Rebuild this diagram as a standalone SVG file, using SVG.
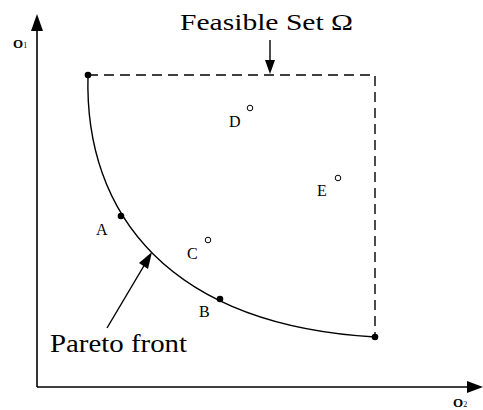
<svg xmlns="http://www.w3.org/2000/svg" width="483" height="410" viewBox="0 0 483 410">
<style>
.ax{stroke:#000;stroke-width:1.6;fill:none}
.ln{stroke:#000;stroke-width:1.4;fill:none}
.dash{stroke:#000;stroke-width:1.4;fill:none;stroke-dasharray:10 6}
.dot{fill:#000}
.open{fill:#fff;stroke:#000;stroke-width:1}
.t{font-family:'Liberation Serif','DejaVu Serif',serif;fill:#000}
.lbl{font-size:16px}
.ax-l{font-size:13px;font-weight:bold}
.sub{font-size:8px;font-weight:normal}
</style>
<g id="connectors">
<path class="ax" d="M37,387 L37,28"/>
<path d="M31,31 L37,14 L43,31 z" fill="#000"/>
<path class="ax" d="M37,387 L470,387"/>
<path d="M467,381 L483,387 L467,393 z" fill="#000"/>
<path class="dash" d="M88,75 L375,75 L375,337"/>
<path class="ln" d="M88,75 C84,215 170,325 375,337"/>
<path class="ln" d="M270,40 L270,62"/>
<path d="M265,60 L270,74 L275,60 z" fill="#000"/>
<path class="ln" d="M107,328 L145,264"/>
<path d="M139,263 L152,252 L148,269 z" fill="#000"/>
</g>
<g id="axis-o1"><text class="t ax-l" x="13" y="48">O<tspan class="sub">1</tspan></text></g>
<g id="axis-o2"><text class="t ax-l" x="453" y="407">O<tspan class="sub">2</tspan></text></g>
<g id="feasible-label"><text class="t" x="180" y="30" font-size="24" textLength="173" lengthAdjust="spacingAndGlyphs">Feasible Set Ω</text></g>
<g id="pareto-label"><text class="t" x="50" y="352" font-size="26" textLength="137" lengthAdjust="spacingAndGlyphs">Pareto front</text></g>
<g id="end-top"><circle class="dot" cx="88" cy="75" r="3.3"/></g>
<g id="end-bottom"><circle class="dot" cx="375" cy="337" r="3.3"/></g>
<g id="A"><circle class="dot" cx="121" cy="216" r="3.3"/><text class="t lbl" x="96" y="235">A</text></g>
<g id="B"><circle class="dot" cx="220" cy="299" r="3.3"/><text class="t lbl" x="199" y="317">B</text></g>
<g id="C"><circle class="open" cx="208" cy="240" r="2.8"/><text class="t lbl" x="187" y="259">C</text></g>
<g id="D"><circle class="open" cx="250" cy="108" r="2.8"/><text class="t lbl" x="229" y="127">D</text></g>
<g id="E"><circle class="open" cx="338" cy="178" r="2.8"/><text class="t lbl" x="317" y="196">E</text></g>
</svg>
